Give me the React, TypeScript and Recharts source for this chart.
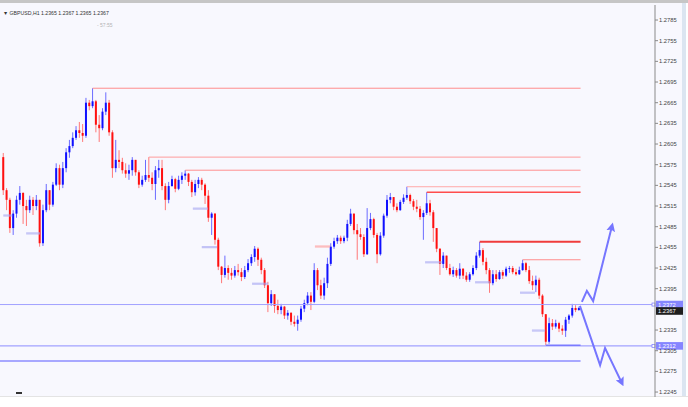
import { ComposedChart, Bar, Line, XAxis, YAxis, ReferenceLine } from 'recharts';

// GBPUSD H1 candles (open = previous close)
const firstOpen = 1.2586;
const closes = [
  1.2538, 1.2524, 1.2483, 1.2504, 1.2524, 1.2534, 1.2515, 1.2509, 1.2524, 1.2515,
  1.2524, 1.2461, 1.2509, 1.2538, 1.2517, 1.2546, 1.2570, 1.2546, 1.2570, 1.2593,
  1.2602, 1.2614, 1.2625, 1.2621, 1.2617, 1.2665, 1.2660, 1.2667, 1.2633, 1.2628,
  1.2652, 1.2665, 1.2622, 1.2570, 1.2582, 1.2579, 1.2567, 1.2562, 1.2567, 1.2582,
  1.2564, 1.2546, 1.2553, 1.2560, 1.2556, 1.2547, 1.2567, 1.2570, 1.2544, 1.2524,
  1.2544, 1.2554, 1.2540, 1.2553, 1.2559, 1.2562, 1.2550, 1.2535, 1.2547, 1.2553,
  1.2546, 1.2530, 1.2498, 1.2504, 1.2466, 1.2427, 1.2415, 1.2425, 1.2418, 1.2414,
  1.2422, 1.2419, 1.2412, 1.2422, 1.2432, 1.2441, 1.2453, 1.2437, 1.2422, 1.2400,
  1.2374, 1.2387, 1.2370, 1.2364, 1.2369, 1.2356, 1.2360, 1.2347, 1.2344, 1.2350,
  1.2366, 1.2374, 1.2385, 1.2376, 1.2422, 1.2400, 1.2385, 1.2403, 1.2431, 1.2456,
  1.2464, 1.2469, 1.2464, 1.2469, 1.2489, 1.2504, 1.2480, 1.2474, 1.2470, 1.2445,
  1.2483, 1.2496, 1.2473, 1.2445, 1.2472, 1.2501, 1.2524, 1.2528, 1.2514, 1.2509,
  1.2521, 1.2527, 1.2531, 1.2522, 1.2514, 1.2511, 1.2499, 1.2505, 1.2519, 1.2506,
  1.2483, 1.2453, 1.2431, 1.2443, 1.2425, 1.2416, 1.2422, 1.2414, 1.2424, 1.2414,
  1.2408, 1.2416, 1.2425, 1.2443, 1.2451, 1.2434, 1.2422, 1.2403, 1.2416, 1.2409,
  1.2419, 1.2414, 1.2424, 1.2425, 1.2419, 1.2416, 1.2422, 1.2432, 1.2422, 1.2406,
  1.2400, 1.2408, 1.2385, 1.2358, 1.2318, 1.2345, 1.2340, 1.2345, 1.2337, 1.2334,
  1.2350, 1.2356, 1.2367, 1.2364, 1.2367,
];
const highs = [
  1.2592, 1.2541, 1.2527, 1.2509, 1.2530, 1.2544, 1.2535, 1.2524, 1.2530, 1.2528,
  1.2531, 1.2524, 1.2517, 1.2547, 1.2538, 1.2550, 1.2577, 1.2575, 1.2579, 1.2599,
  1.2611, 1.2622, 1.2631, 1.2637, 1.2634, 1.2672, 1.2669, 1.2686, 1.2669, 1.2647,
  1.2657, 1.2680, 1.2669, 1.2625, 1.2611, 1.2596, 1.2585, 1.2577, 1.2575, 1.2586,
  1.2582, 1.2567, 1.2559, 1.2582, 1.2586, 1.2564, 1.2573, 1.2582, 1.2582, 1.2548,
  1.2550, 1.2559, 1.2556, 1.2559, 1.2564, 1.2567, 1.2563, 1.2553, 1.2553, 1.2557,
  1.2556, 1.2548, 1.2538, 1.2506, 1.2505, 1.2469, 1.2428, 1.2443, 1.2429, 1.2425,
  1.2428, 1.2431, 1.2425, 1.2428, 1.2438, 1.2445, 1.2457, 1.2455, 1.2440, 1.2425,
  1.2405, 1.2393, 1.2387, 1.2379, 1.2373, 1.2370, 1.2364, 1.2361, 1.2356, 1.2356,
  1.2370, 1.2379, 1.2390, 1.2390, 1.2432, 1.2425, 1.2408, 1.2411, 1.2440, 1.2461,
  1.2469, 1.2473, 1.2472, 1.2472, 1.2495, 1.2511, 1.2504, 1.2489, 1.2483, 1.2474,
  1.2512, 1.2505, 1.2498, 1.2476, 1.2477, 1.2504, 1.2531, 1.2534, 1.2528, 1.2519,
  1.2524, 1.2532, 1.2543, 1.2533, 1.2525, 1.2524, 1.2515, 1.2509, 1.2535, 1.2524,
  1.2509, 1.2483, 1.2454, 1.2448, 1.2443, 1.2431, 1.2427, 1.2425, 1.2432, 1.2425,
  1.2419, 1.2419, 1.2429, 1.2448, 1.2463, 1.2454, 1.2440, 1.2425, 1.2422, 1.2422,
  1.2422, 1.2422, 1.2427, 1.2428, 1.2428, 1.2424, 1.2427, 1.2437, 1.2434, 1.2428,
  1.2414, 1.2414, 1.2411, 1.2387, 1.2358, 1.2353, 1.2351, 1.2350, 1.2347, 1.2342,
  1.2354, 1.2358, 1.2373, 1.2371, 1.2369,
];
const lows = [
  1.2531, 1.2509, 1.2476, 1.2473, 1.2498, 1.2517, 1.2489, 1.2486, 1.2505, 1.2502,
  1.2509, 1.2456, 1.2457, 1.2506, 1.2509, 1.2514, 1.2544, 1.2538, 1.2541, 1.2564,
  1.2585, 1.2599, 1.2611, 1.2614, 1.2608, 1.2614, 1.2654, 1.2657, 1.2622, 1.2608,
  1.2625, 1.2647, 1.2617, 1.2556, 1.2564, 1.2570, 1.2562, 1.2556, 1.2553, 1.2559,
  1.2559, 1.2541, 1.2543, 1.2550, 1.2550, 1.2538, 1.2524, 1.2556, 1.2538, 1.2509,
  1.2519, 1.2543, 1.2535, 1.2538, 1.2547, 1.2553, 1.2544, 1.2528, 1.2530, 1.2541,
  1.2538, 1.2518, 1.2492, 1.2473, 1.2459, 1.2422, 1.2403, 1.2411, 1.2408, 1.2408,
  1.2411, 1.2414, 1.2406, 1.2409, 1.2419, 1.2428, 1.2434, 1.2428, 1.2416, 1.2396,
  1.2361, 1.2370, 1.2360, 1.2358, 1.2358, 1.2351, 1.2350, 1.2342, 1.2340, 1.2334,
  1.2347, 1.2361, 1.2371, 1.2364, 1.2374, 1.2393, 1.2380, 1.2379, 1.2396, 1.2428,
  1.2453, 1.2460, 1.2460, 1.2461, 1.2464, 1.2486, 1.2474, 1.2437, 1.2466, 1.2441,
  1.2444, 1.2480, 1.2469, 1.2432, 1.2443, 1.2469, 1.2498, 1.2519, 1.2509, 1.2506,
  1.2508, 1.2518, 1.2524, 1.2518, 1.2509, 1.2506, 1.2495, 1.2466, 1.2502, 1.2501,
  1.2463, 1.2448, 1.2415, 1.2425, 1.2422, 1.2414, 1.2412, 1.2411, 1.2409, 1.2409,
  1.2405, 1.2405, 1.2414, 1.2422, 1.2440, 1.2429, 1.2416, 1.2389, 1.2400, 1.2405,
  1.2408, 1.2409, 1.2412, 1.2418, 1.2416, 1.2414, 1.2415, 1.2421, 1.2419, 1.2402,
  1.2393, 1.2390, 1.2380, 1.2354, 1.2313, 1.2315, 1.2335, 1.2337, 1.2332, 1.2328,
  1.2325, 1.2344, 1.2353, 1.2361, 1.2363,
];

// 1.2365 sits under the current-price tag in the terminal, so it is not listed
const priceTicks = [
  1.2785, 1.2755, 1.2725, 1.2695, 1.2665, 1.2635, 1.2605, 1.2575, 1.2545, 1.2515,
  1.2485, 1.2455, 1.2425, 1.2395, 1.2335, 1.2305, 1.2275, 1.2245,
];

// horizontal resistance lines drawn from a candle high to the right
const resistance = [
  { from: 27, price: 1.2686, color: '#ff8c8c', width: 1 },
  { from: 44, price: 1.2586, color: '#ff9c9c', width: 1 },
  { from: 55, price: 1.2567, color: '#ff9090', width: 1 },
  { from: 122, price: 1.2543, color: '#ffa8a8', width: 1 },
  { from: 128, price: 1.2535, color: '#ff4d4d', width: 1.4 },
  { from: 144, price: 1.2463, color: '#f03c3c', width: 2 },
  { from: 157, price: 1.2437, color: '#ff8c8c', width: 1 },
];
const levelEnd = 174.5;
const supportFrom = 164;
const supportPrice = 1.2313;
const levelA = 1.2372;
const levelB = 1.2312;
const lowerLevel = 1.229;
const lastPrice = 1.2367;

const orderMarks = [
  { from: 0, to: 2.7, price: 1.2502, color: '#a9a9f2' },
  { from: 6.9, to: 11.1, price: 1.2476, color: '#a9a9f2' },
  { from: 57.3, to: 61.9, price: 1.2512, color: '#a9a9f2' },
  { from: 60, to: 64.6, price: 1.2456, color: '#a9a9f2' },
  { from: 75.2, to: 80, price: 1.2403, color: '#a9a9f2' },
  { from: 94.2, to: 98.8, price: 1.2457, color: '#ff9a9a' },
  { from: 127.5, to: 132.6, price: 1.2434, color: '#a9a9f2' },
  { from: 142.6, to: 147.1, price: 1.2405, color: '#a9a9f2' },
  { from: 156.2, to: 160.7, price: 1.239, color: '#a9a9f2' },
  { from: 159.8, to: 163.8, price: 1.2335, color: '#a9a9f2' },
];

const upPath = [
  { i: 174.9, p: 1.2376 },
  { i: 176.4, p: 1.2392 },
  { i: 178.3, p: 1.2377 },
  { i: 184.0, p: 1.2486 },
];
const downPath = [
  { i: 174.3, p: 1.237 },
  { i: 180.4, p: 1.2284 },
  { i: 181.9, p: 1.2309 },
  { i: 187.0, p: 1.2258 },
];

const candles = closes.map((close, i) => ({
  i,
  open: i === 0 ? firstOpen : closes[i - 1],
  close,
  high: highs[i],
  low: lows[i],
}));

function Candle(props: any) {
  const { x, y, width, height, payload } = props;
  if (!payload || height == null) return null;
  const { open, close, high, low } = payload;
  const up = close >= open;
  const range = high - low || 1e-9;
  const py = (v: number) => y + ((high - v) / range) * height;
  const cx = x + width / 2;
  const top = py(Math.max(open, close));
  const bot = py(Math.min(open, close));
  return (
    <g>
      <line x1={cx} x2={cx} y1={y} y2={y + height} stroke={up ? '#6b6bff' : '#ff7878'} strokeWidth={1} />
      <rect x={cx - 1} y={top} width={2} height={Math.max(1, bot - top)} fill={up ? '#1010ff' : '#ff1010'} />
    </g>
  );
}

function PriceTag(props: any) {
  const { viewBox, text, fill, dy = 0, mark = true } = props;
  if (!viewBox) return null;
  const x = viewBox.x + viewBox.width;
  const y = viewBox.y;
  return (
    <g>
      {mark && <rect x={x - 3} y={y - 1.5} width={3} height={3} fill="#fff" stroke={fill} strokeWidth={0.8} />}
      <rect x={x + 1} y={y - 3.8 + dy} width={27} height={7.6} fill={fill} />
      <text x={x + 3} y={y + 2.2 + dy} fontSize={5.8} fill="#fff" fontFamily="Liberation Sans, Arial">
        {text}
      </text>
    </g>
  );
}

export default function App() {
  return (
    <div style={{ position: 'absolute', left: 0, top: 0, width: 688, height: 407, background: '#fff', overflow: 'hidden' }}>
      <div style={{ position: 'absolute', left: 0, top: 0, width: 688, height: 3, background: '#c6c6c6' }} />
      <div style={{ position: 'absolute', left: 0, top: 3, width: 682, height: 393, background: '#f8f8fe' }} />
      <div style={{ position: 'absolute', left: 682, top: 3, width: 4, height: 393, background: '#dbe5f1' }} />
      <div style={{ position: 'absolute', left: 0, top: 396, width: 688, height: 1, background: '#e4e4e4' }} />
      <div style={{ position: 'absolute', left: 16, top: 392, width: 6, height: 2, background: '#333' }} />
      <div style={{ position: 'absolute', left: 0, top: 0 }}>
        <ComposedChart width={688} height={407} data={candles} margin={{ top: 5, right: 0, bottom: 10, left: 0 }}>
          <defs>
            <marker id="arrowHead" viewBox="0 0 10 10" refX="6" refY="5" markerWidth="9" markerHeight="9" markerUnits="userSpaceOnUse" orient="auto">
              <path d="M0,0 L10,5 L0,10 L2,5 z" fill="#7676ff" />
            </marker>
          </defs>
          <XAxis dataKey="i" type="number" domain={[-1, 197]} hide allowDataOverflow />
          <YAxis
            orientation="right"
            width={33}
            domain={[1.22378, 1.28068]}
            ticks={priceTicks}
            interval={0}
            allowDataOverflow
            tickFormatter={(v: number) => v.toFixed(4)}
            tick={{ fontSize: 5.8, fill: '#444', fontFamily: 'Liberation Sans, Arial' }}
            tickSize={3}
            tickMargin={1}
            axisLine={{ stroke: '#8a8a8a' }}
            tickLine={{ stroke: '#8a8a8a' }}
          />
          {resistance.map((r) => (
            <ReferenceLine
              key={r.price}
              segment={[{ x: r.from, y: r.price }, { x: levelEnd, y: r.price }]}
              stroke={r.color}
              strokeWidth={r.width}
            />
          ))}
          {orderMarks.map((m, k) => (
            <ReferenceLine key={'m' + k} segment={[{ x: m.from, y: m.price }, { x: m.to, y: m.price }]} stroke={m.color} strokeWidth={0.8} />
          ))}
          {orderMarks.map((m, k) => (
            <ReferenceLine key={'n' + k} segment={[{ x: m.from, y: m.price - 0.00015 }, { x: m.to, y: m.price - 0.00015 }]} stroke={m.color} strokeWidth={0.8} />
          ))}
          <ReferenceLine y={levelA} stroke="#a2a2ff" strokeWidth={1} label={<PriceTag text="1.2372" fill="#8585ff" />} />
          <ReferenceLine y={levelB} stroke="#a2a2ff" strokeWidth={1.2} label={<PriceTag text="1.2312" fill="#8585ff" />} />
          <ReferenceLine y={lastPrice} stroke="none" label={<PriceTag text="1.2367" fill="#1e1e1e" dy={3} mark={false} />} />
          <ReferenceLine segment={[{ x: -1, y: lowerLevel }, { x: levelEnd, y: lowerLevel }]} stroke="#a8a8ff" strokeWidth={2} />
          <ReferenceLine segment={[{ x: supportFrom, y: supportPrice }, { x: levelEnd, y: supportPrice }]} stroke="#7a7aff" strokeWidth={1.4} />
          <Bar dataKey={(d: any) => [d.low, d.high]} barSize={2} shape={<Candle />} isAnimationActive={false} />
          <Line data={upPath} dataKey="p" stroke="#7676ff" strokeWidth={2} dot={false} isAnimationActive={false} markerEnd="url(#arrowHead)" />
          <Line data={downPath} dataKey="p" stroke="#7676ff" strokeWidth={2} dot={false} isAnimationActive={false} markerEnd="url(#arrowHead)" />
        </ComposedChart>
      </div>
      <svg width={688} height={40} style={{ position: 'absolute', left: 0, top: 0, pointerEvents: 'none' }}>
        <text x={3} y={15} fontSize={5.2} fill="#333" fontFamily="Liberation Sans, Arial">
          ▼ GBPUSD,H1  1.2365 1.2367 1.2365 1.2367
        </text>
        <text x={97} y={27} fontSize={5} fill="#b4b4b4" fontFamily="Liberation Sans, Arial">
          - 57:55
        </text>
      </svg>
    </div>
  );
}
